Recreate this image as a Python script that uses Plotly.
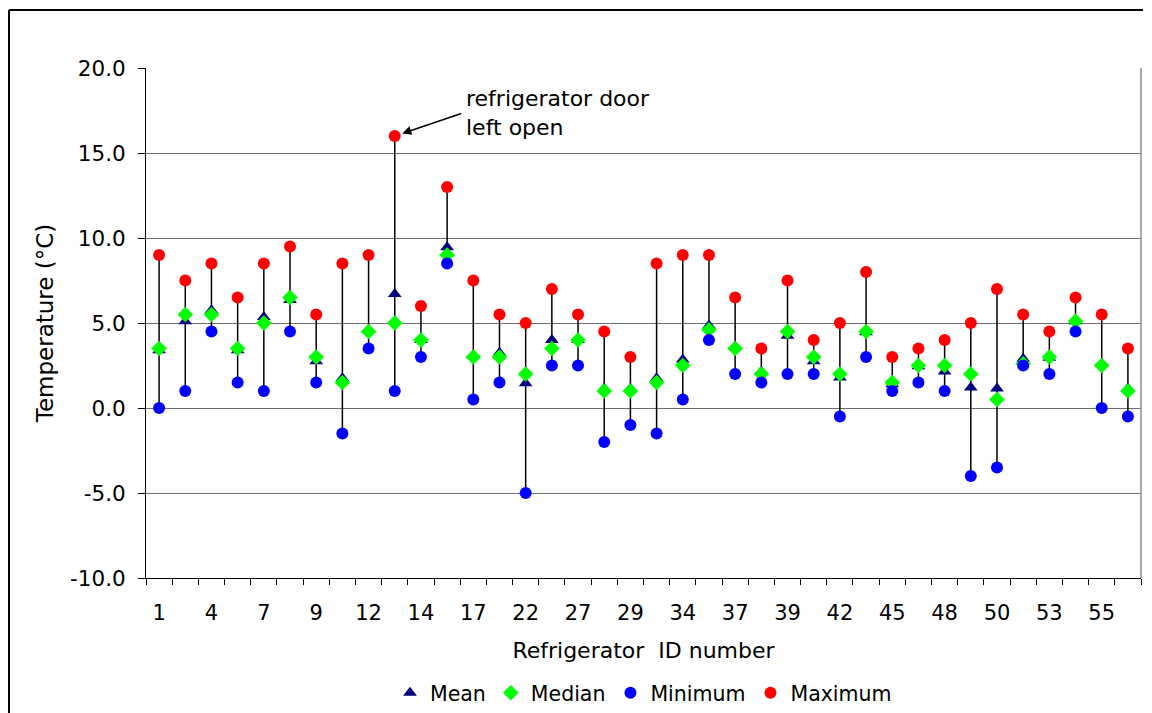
import plotly.graph_objects as go

fridge_ids = [1, 2, 4, 5, 7, 8, 9, 10, 12, 13, 14, 15, 17, 19, 22, 24, 27, 28, 29, 31,
              34, 35, 37, 38, 39, 40, 42, 43, 45, 46, 48, 49, 50, 51, 53, 54, 55, 56]

mean_t = [3.4, 5.1, 5.75, 3.4, 5.35, 6.35, 2.75, 1.75, 4.6, 6.7, 4.0, 9.45, 3.1,
          3.25, 1.45, 4.0, 4.0, 1.15, 1.15, 1.75, 2.85, 4.85, 3.6, 2.15, 4.25, 2.75,
          1.8, 4.45, 1.4, 2.45, 2.15, 1.2, 1.15, 2.9, 2.95, 5.1, 2.6, 1.15]
median_t = [3.5, 5.5, 5.5, 3.5, 5.0, 6.5, 3.0, 1.5, 4.5, 5.0, 4.0, 9.0, 3.0,
            3.0, 2.0, 3.5, 4.0, 1.0, 1.0, 1.5, 2.5, 4.6, 3.5, 2.0, 4.5, 3.0,
            2.0, 4.5, 1.5, 2.5, 2.5, 2.0, 0.5, 2.6, 3.0, 5.1, 2.5, 1.0]
min_t = [0.0, 1.0, 4.5, 1.5, 1.0, 4.5, 1.5, -1.5, 3.5, 1.0, 3.0, 8.5, 0.5,
         1.5, -5.0, 2.5, 2.5, -2.0, -1.0, -1.5, 0.5, 4.0, 2.0, 1.5, 2.0, 2.0,
         -0.5, 3.0, 1.0, 1.5, 1.0, -4.0, -3.5, 2.5, 2.0, 4.5, 0.0, -0.5]
max_t = [9.0, 7.5, 8.5, 6.5, 8.5, 9.5, 5.5, 8.5, 9.0, 16.0, 6.0, 13.0, 7.5,
         5.5, 5.0, 7.0, 5.5, 4.5, 3.0, 8.5, 9.0, 9.0, 6.5, 3.5, 7.5, 4.0,
         5.0, 8.0, 3.0, 3.5, 4.0, 5.0, 7.0, 5.5, 4.5, 6.5, 5.5, 3.5]

y_ticks = [-10, -5, 0, 5, 10, 15, 20]

FONT = "DejaVu Sans"
n = len(fridge_ids)
xs = list(range(n))

# high-low lines
lx, ly = [], []
for i in xs:
    lx += [i, i, None]
    ly += [min_t[i], max_t[i], None]

fig = go.Figure()
fig.add_trace(go.Scatter(x=lx, y=ly, mode="lines", line=dict(color="black", width=1.5),
                         showlegend=False, hoverinfo="skip"))
fig.add_trace(go.Scatter(x=xs, y=mean_t, mode="markers", name="Mean",
                         marker=dict(symbol="triangle-up", color="#000080", size=12)))
fig.add_trace(go.Scatter(x=xs, y=median_t, mode="markers", name="Median",
                         marker=dict(symbol="diamond", color="#00FF00", size=12)))
fig.add_trace(go.Scatter(x=xs, y=min_t, mode="markers", name="Minimum",
                         marker=dict(symbol="circle", color="#0000FF", size=12)))
fig.add_trace(go.Scatter(x=xs, y=max_t, mode="markers", name="Maximum",
                         marker=dict(symbol="circle", color="#FF0000", size=12)))

fig.update_layout(
    width=1144, height=705,
    margin=dict(l=138, r=11, t=60, b=135),
    paper_bgcolor="white", plot_bgcolor="white",
    font=dict(family=FONT, size=21, color="black"),
    showlegend=True,
    legend=dict(orientation="h", xref="paper", x=0.5, xanchor="center",
                yref="container", y=0.0284, yanchor="middle",
                font=dict(size=20.5), itemwidth=30, tracegroupgap=0),
)
fig.update_xaxes(
    range=[-0.5, n - 0.5], automargin=False,
    tickmode="array", tickvals=xs[::2], ticktext=[str(v) for v in fridge_ids[::2]],
    ticks="", ticklabelstandoff=16, tickfont=dict(size=21),
    minor=dict(tickmode="array", tickvals=[i - 0.5 for i in range(n + 1)],
               ticks="outside", ticklen=6, tickcolor="black"),
    showline=True, linecolor="black", linewidth=1, mirror=False,
    showgrid=False, zeroline=False,
    title=dict(text="Refrigerator  ID number", standoff=18, font=dict(size=22)),
)
fig.update_yaxes(
    range=[-10, 20], automargin=False, tickmode="array", tickvals=y_ticks,
    ticktext=[f"{v:.1f}" for v in y_ticks], tickfont=dict(size=21.5),
    ticks="outside", ticklen=7, tickcolor="black", ticklabelstandoff=8,
    showline=True, linecolor="black", linewidth=1,
    showgrid=True, gridcolor="#6e6e6e", gridwidth=1, zeroline=False,
    title=dict(text="Temperature (°C)", standoff=10, font=dict(size=23)),
)

# plot-area right border (gray) and outer chart border
fig.add_shape(type="line", xref="paper", yref="paper", x0=1, x1=1, y0=0, y1=1,
              line=dict(color="#8c8c8c", width=1.5))
fig.add_shape(type="line", xref="paper", yref="paper", x0=-0.1377, x1=-0.1377,
              y0=-0.3, y1=1.1137, line=dict(color="black", width=2))
fig.add_shape(type="line", xref="paper", yref="paper", x0=-0.1377, x1=1.002,
              y0=1.1137, y1=1.1137, line=dict(color="black", width=2))

peak = max_t.index(max(max_t))
fig.add_annotation(x=peak, y=max_t[peak], xref="x", yref="y", text="",
                   showarrow=True, arrowhead=2, arrowsize=1.2, arrowwidth=1.5,
                   arrowcolor="black", ax=68, ay=-23, standoff=8)
fig.add_annotation(x=0.3196, y=0.911, xref="paper", yref="paper",
                   text="refrigerator door<br>left open", showarrow=False,
                   xanchor="left", yanchor="middle", align="left",
                   font=dict(size=22))

fig.write_html("out.html")
